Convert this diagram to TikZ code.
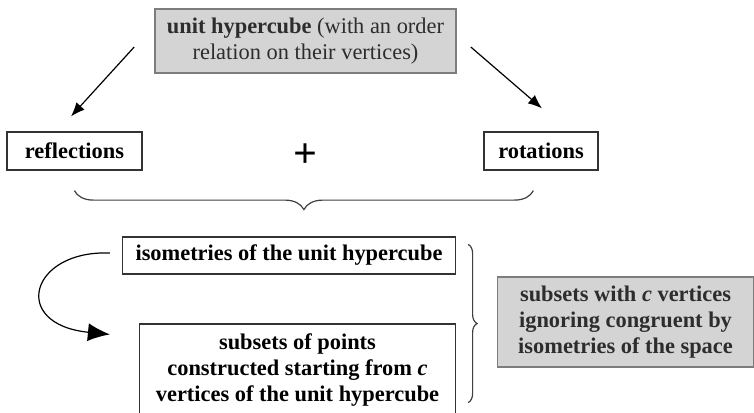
\documentclass[tikz,border=0pt]{standalone}
\usepackage{fontspec}
\setmainfont{Liberation Serif}
\usetikzlibrary{positioning, arrows.meta, decorations.pathreplacing}

\definecolor{boxgrey}{RGB}{212,212,212}
\definecolor{edgegrey}{RGB}{125,125,125}
\definecolor{textgrey}{RGB}{45,45,45}

\begin{document}
\begin{tikzpicture}
	[x=0.5pt, y=-0.5pt, on grid,
	 font=\fontsize{11.2}{13}\selectfont\bfseries,
	 plain/.style={draw=black!80, line width=0.6pt, fill=white, inner sep=0pt, align=center},
	 shaded/.style={draw=edgegrey, line width=0.8pt, fill=boxgrey, text=textgrey, inner sep=0pt, align=center},
	 tip/.style={-{Latex[length=7pt,width=5.5pt]}, line width=0.6pt},
	 curly/.style={decorate, line width=0.6pt, draw=black!75}]
   \useasboundingbox (0,0) rectangle (754,412);
   \node[shaded, minimum width=150.5pt, minimum height=32pt] (cube) at (305.5,41)
        {unit hypercube \mdseries(with an order\\ \mdseries relation on their vertices)};
   \node[plain, minimum width=67.5pt, minimum height=19pt] (refl) [below left=55pt and 115.5pt of cube] {reflections};
   \node[plain, minimum width=57pt, minimum height=19pt] (rot) [below right=55pt and 117.75pt of cube] {rotations};
   \node (plus) [below=57.5pt of cube] {\fontsize{21}{21}\selectfont +};
   \node[plain, minimum width=166.5pt, minimum height=18.5pt] (iso) [below left=49.75pt and 8.25pt of plus]
        {isometries of the unit hypercube};
   \node[plain, minimum width=158pt, minimum height=46pt] (sub) [below right=57.25pt and 4.25pt of iso]
        {subsets of points\\ constructed starting from \textit{c}\\ vertices of the unit hypercube};
   \node[shaded, minimum width=128pt, minimum height=45pt] (space) [below right=33.25pt and 168.25pt of iso]
        {subsets with \textit{c} vertices\\ ignoring congruent by\\ isometries of the space};
   \coordinate (lb) at ([xshift=34pt,yshift=-10pt]refl.south west);
   \coordinate (rb) at ([xshift=25pt,yshift=-10pt]rot.south west);
   \coordinate (tb) at ([xshift=6pt,yshift=-4pt]iso.north east);
   \coordinate (bb) at ([xshift=6pt,yshift=7pt]sub.south east);
   \draw[tip] ([xshift=-10pt,yshift=-3pt]cube.west) -- ([xshift=-1.75pt,yshift=7.5pt]refl.north);
   \draw[tip] ([xshift=7pt,yshift=-3pt]cube.east) -- ([xshift=0.5pt,yshift=11.5pt]rot.north);
   \draw[curly, decoration={brace, mirror, amplitude=9.5pt}] (lb) -- (rb);
   \draw[curly, decoration={brace, amplitude=4.5pt}] (tb) -- (bb);
   \draw[-{Latex[length=11pt,width=9pt]}, line width=0.6pt]
        ([xshift=-6pt,yshift=1.25pt]iso.west) .. controls +(-80,-3) and +(-100,-10) .. ([xshift=-14.5pt,yshift=-5.5pt]sub.north west);
\end{tikzpicture}
\end{document}
